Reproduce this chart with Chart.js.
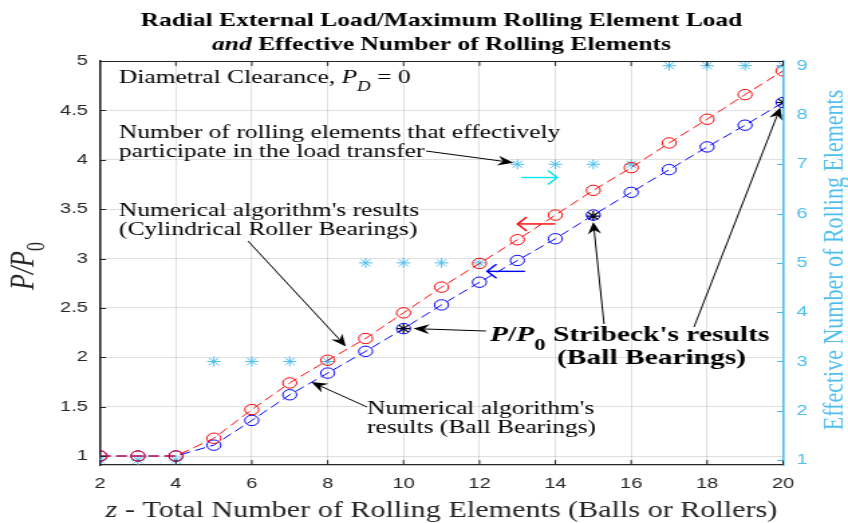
<!DOCTYPE html>
<html>
<head>
<meta charset="utf-8">
<script src="https://cdn.jsdelivr.net/npm/chart.js@4.4.1/dist/chart.umd.min.js"></script>
<style>
  html, body { margin: 0; padding: 0; background: #fff; overflow: hidden; }
  /* the original figure is stretched sideways, so the canvas is too */
  #wrap { width: 633px; height: 523px; transform: scaleX(1.33965); transform-origin: 0 0; }
</style>
</head>
<body>
<div id="wrap"><canvas id="chart" width="633" height="523"></canvas></div>
<script>
// z - total number of rolling elements
const zValues = [2, 3, 4, 5, 6, 7, 8, 9, 10, 11, 12, 13, 14, 15, 16, 17, 18, 19, 20];
// P/P0, numerical algorithm, cylindrical roller bearings
const cylRatio = [1.0, 1.0, 1.0, 1.18, 1.47, 1.74, 1.97, 2.19, 2.45, 2.71, 2.95, 3.19, 3.44, 3.69, 3.92, 4.17, 4.41, 4.66, 4.90];
// P/P0, numerical algorithm, ball bearings
const ballRatio = [1.0, 1.0, 1.0, 1.11, 1.36, 1.62, 1.84, 2.06, 2.29, 2.53, 2.76, 2.98, 3.20, 3.44, 3.67, 3.90, 4.13, 4.35, 4.58];
// Stribeck's results (ball bearings)
const stribeckZ = [10, 15, 20];
const stribeckRatio = [2.29, 3.43, 4.58];
// effective number of rolling elements (right axis)
const effectiveCount = [1, 1, 1, 3, 3, 3, 3, 5, 5, 5, 5, 7, 7, 7, 7, 9, 9, 9, 9];

const xTicks = [2, 4, 6, 8, 10, 12, 14, 16, 18, 20];
const leftTicks = [1, 1.5, 2, 2.5, 3, 3.5, 4, 4.5, 5];
const rightTicks = [1, 2, 3, 4, 5, 6, 7, 8, 9];

const S = 848 / 633;           // sideways stretch
const rx = px => px / S;       // page x -> canvas x
const CYAN = "#4DBEEE";
const INK = "#262626";
const SERIF = "'Liberation Serif', 'Times New Roman', serif";
const SANS = "'Liberation Sans', Arial, sans-serif";

const pts = (xs, ys) => xs.map((x, i) => ({ x: x, y: ys[i] }));

// draw a row of text pieces with different fonts / offsets
function runs(ctx, x, y, parts, align) {
  let w = 0;
  parts.forEach(p => { ctx.font = p.font; w += ctx.measureText(p.t).width; });
  let cx = align === "center" ? x - w / 2 : x;
  parts.forEach(p => {
    ctx.font = p.font;
    ctx.fillText(p.t, cx, y + (p.dy || 0));
    cx += ctx.measureText(p.t).width;
  });
}

// black arrow with swept-back filled head
function arrow(ctx, x1, y1, x2, y2) {
  const a = Math.atan2(y2 - y1, x2 - x1);
  const len = 12, half = 5, back = 8;
  ctx.strokeStyle = "#000";
  ctx.fillStyle = "#000";
  ctx.lineWidth = 1;
  ctx.beginPath();
  ctx.moveTo(x1, y1);
  ctx.lineTo(x2 - Math.cos(a) * back, y2 - Math.sin(a) * back);
  ctx.stroke();
  ctx.save();
  ctx.translate(x2, y2);
  ctx.rotate(a);
  ctx.beginPath();
  ctx.moveTo(0, 0);
  ctx.lineTo(-len, -half);
  ctx.lineTo(-back, 0);
  ctx.lineTo(-len, half);
  ctx.closePath();
  ctx.fill();
  ctx.restore();
}

// thin coloured arrow with open head
function openArrow(ctx, x1, y1, x2, y2, color) {
  const a = Math.atan2(y2 - y1, x2 - x1);
  ctx.strokeStyle = color;
  ctx.lineWidth = 1.4;
  ctx.beginPath();
  ctx.moveTo(x1, y1);
  ctx.lineTo(x2, y2);
  ctx.stroke();
  ctx.save();
  ctx.translate(x2, y2);
  ctx.rotate(a);
  ctx.beginPath();
  ctx.moveTo(-7, -7);
  ctx.quadraticCurveTo(-2, -2, 0, 0);
  ctx.quadraticCurveTo(-2, 2, -7, 7);
  ctx.stroke();
  ctx.restore();
}

const annotate = {
  id: "annotate",
  afterDraw(chart) {
    const ctx = chart.ctx;
    const xs = chart.scales.x, ys = chart.scales.y, y2s = chart.scales.y2;
    const X = v => xs.getPixelForValue(v);
    const Y = v => ys.getPixelForValue(v);
    const area = chart.chartArea;
    ctx.save();

    // top box edge and inward ticks
    ctx.strokeStyle = INK;
    ctx.lineWidth = 1.2;
    ctx.beginPath();
    ctx.moveTo(area.left, area.top + 0.5);
    ctx.lineTo(area.right, area.top + 0.5);
    ctx.stroke();
    ctx.lineWidth = 1;
    ctx.beginPath();
    xTicks.forEach(v => {
      const px = X(v);
      ctx.moveTo(px, area.bottom); ctx.lineTo(px, area.bottom - 5);
      ctx.moveTo(px, area.top); ctx.lineTo(px, area.top + 5);
    });
    leftTicks.forEach(v => {
      const py = Math.round(Y(v)) + 0.5;
      ctx.moveTo(area.left, py); ctx.lineTo(area.left + 4.5, py);
    });
    ctx.stroke();
    ctx.strokeStyle = CYAN;
    ctx.beginPath();
    rightTicks.forEach(v => {
      const py = Math.round(y2s.getPixelForValue(v)) + 0.5;
      ctx.moveTo(area.right, py); ctx.lineTo(area.right - 4.5, py);
    });
    ctx.stroke();

    // title
    ctx.fillStyle = "#000";
    ctx.textBaseline = "alphabetic";
    const cx = (area.left + area.right) / 2;
    runs(ctx, cx, 26, [{ t: "Radial External Load/Maximum Rolling Element Load", font: "bold 19px " + SERIF }], "center");
    runs(ctx, cx, 50, [
      { t: "and", font: "italic bold 19px " + SERIF },
      { t: " Effective Number of Rolling Elements", font: "bold 19px " + SERIF }
    ], "center");

    // x axis title
    ctx.fillStyle = INK;
    runs(ctx, cx, 517, [
      { t: "z", font: "italic 22.5px " + SERIF },
      { t: " - Total Number of Rolling Elements (Balls or Rollers)", font: "22.5px " + SERIF }
    ], "center");

    // left axis title
    ctx.save();
    ctx.translate(rx(33), 266);
    ctx.rotate(-Math.PI / 2);
    runs(ctx, 0, 0, [
      { t: "P/P", font: "italic 26px " + SERIF },
      { t: "0", font: "18px " + SERIF, dy: 8 }
    ], "center");
    ctx.restore();

    // right axis title
    ctx.save();
    ctx.fillStyle = CYAN;
    ctx.translate(rx(843), 260);
    ctx.rotate(-Math.PI / 2);
    runs(ctx, 0, 0, [{ t: "Effective Number of Rolling Elements", font: "22px " + SERIF }], "center");
    ctx.restore();

    // text annotations
    const f = "19px " + SERIF;
    ctx.fillStyle = "#000";
    runs(ctx, rx(119), 83, [
      { t: "Diametral Clearance, ", font: f },
      { t: "P", font: "italic 19px " + SERIF },
      { t: "D", font: "italic 14px " + SERIF, dy: 8 },
      { t: " = 0", font: f }
    ]);
    runs(ctx, rx(119), 138, [{ t: "Number of rolling elements that effectively", font: f }]);
    runs(ctx, rx(119), 157, [{ t: "participate in the load transfer", font: f }]);
    runs(ctx, rx(119), 216, [{ t: "Numerical algorithm's results", font: f }]);
    runs(ctx, rx(119), 235, [{ t: "(Cylindrical Roller Bearings)", font: f }]);
    runs(ctx, rx(367), 414, [{ t: "Numerical algorithm's", font: f }]);
    runs(ctx, rx(367), 433, [{ t: "results (Ball Bearings)", font: f }]);
    runs(ctx, rx(490), 341, [
      { t: "P", font: "italic bold 22px " + SERIF },
      { t: "/", font: "bold 22px " + SERIF },
      { t: "P", font: "italic bold 22px " + SERIF },
      { t: "0", font: "bold 17px " + SERIF, dy: 9 },
      { t: " Stribeck's results", font: "bold 22px " + SERIF }
    ]);
    runs(ctx, rx(557), 364, [{ t: "(Ball Bearings)", font: "bold 22px " + SERIF }]);

    // black arrows, tips at the data they point to
    arrow(ctx, rx(426), 151, X(12.9), Y(3.97));
    arrow(ctx, rx(248), 241, X(8.48), Y(2.11));
    arrow(ctx, rx(367), 407, X(7.57), Y(1.75));
    arrow(ctx, rx(486), 331, X(10.26), Y(stribeckRatio[0]));
    arrow(ctx, rx(604), 324, X(stribeckZ[1]), Y(stribeckRatio[1]) + 6);
    arrow(ctx, rx(694), 327, X(stribeckZ[2]) - 2, Y(stribeckRatio[2]) + 5);

    // coloured direction arrows
    openArrow(ctx, X(13.1), Y(3.82), X(14.05), Y(3.82), "#00E5EE");
    openArrow(ctx, X(14.0), Y(3.35), X(13.0), Y(3.35), "#FF0000");
    openArrow(ctx, X(13.2), Y(2.87), X(12.2), Y(2.87), "#0000FF");
    ctx.restore();
  }
};

const tickFont = { family: SANS, size: 15 };

new Chart(document.getElementById("chart"), {
  type: "line",
  data: {
    datasets: [
      {
        data: pts(zValues, cylRatio),
        yAxisID: "y",
        borderColor: "#FF0000",
        borderWidth: 1,
        borderDash: [8, 4],
        pointStyle: "circle",
        pointRadius: 5.2,
        pointBorderWidth: 1,
        pointBorderColor: "#FF0000",
        pointBackgroundColor: "rgba(0,0,0,0)",
        fill: false,
        tension: 0
      },
      {
        data: pts(zValues, ballRatio),
        yAxisID: "y",
        borderColor: "#0000FF",
        borderWidth: 1,
        borderDash: [8, 4],
        pointStyle: "circle",
        pointRadius: 5.2,
        pointBorderWidth: 1,
        pointBorderColor: "#0000FF",
        pointBackgroundColor: "rgba(0,0,0,0)",
        fill: false,
        tension: 0
      },
      {
        data: pts(stribeckZ, stribeckRatio),
        yAxisID: "y",
        showLine: false,
        pointStyle: "star",
        pointRadius: 5,
        pointBorderWidth: 1.2,
        pointBorderColor: "#000",
        pointBackgroundColor: "#000"
      },
      {
        data: pts(zValues, effectiveCount),
        yAxisID: "y2",
        showLine: false,
        pointStyle: "star",
        pointRadius: 5,
        pointBorderWidth: 1,
        pointBorderColor: CYAN,
        pointBackgroundColor: CYAN
      }
    ]
  },
  options: {
    responsive: false,
    animation: false,
    layout: { padding: { top: 61, left: 0, right: 0, bottom: 0 } },
    plugins: { legend: { display: false }, tooltip: { enabled: false } },
    scales: {
      x: {
        type: "linear",
        min: 2,
        max: 20,
        afterBuildTicks: s => { s.ticks = xTicks.map(v => ({ value: v })); },
        afterFit: s => { s.height = 58; },
        grid: { color: "rgba(0,0,0,0.12)", drawTicks: false },
        border: { color: INK, width: 1.2 },
        ticks: { color: INK, font: tickFont, padding: 10, callback: v => String(v) }
      },
      y: {
        position: "left",
        min: 0.909,
        max: 5,
        afterBuildTicks: s => { s.ticks = leftTicks.map(v => ({ value: v })); },
        afterFit: s => { s.width = rx(100); },
        grid: { color: "rgba(0,0,0,0.12)", drawTicks: false },
        border: { color: INK, width: 1.6 },
        ticks: { color: INK, font: tickFont, padding: 9, callback: v => String(v) }
      },
      y2: {
        position: "right",
        min: 0.9,
        max: 9.095,
        afterBuildTicks: s => { s.ticks = rightTicks.map(v => ({ value: v })); },
        afterFit: s => { s.width = rx(65); },
        grid: { drawOnChartArea: false, drawTicks: false },
        border: { color: CYAN, width: 1.6 },
        ticks: { color: CYAN, font: tickFont, padding: 10, callback: v => String(v) }
      }
    }
  },
  plugins: [annotate]
});
</script>
</body>
</html>
